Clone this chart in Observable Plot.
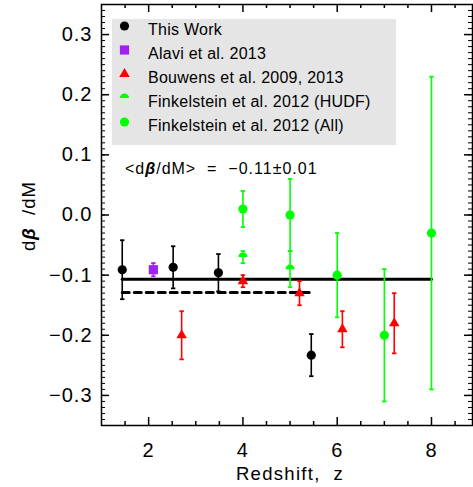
<!DOCTYPE html>
<html><head><meta charset="utf-8">
<script src="https://cdn.jsdelivr.net/npm/d3@7"></script>
<script src="https://cdn.jsdelivr.net/npm/@observablehq/plot@0.6"></script>
<style>
body{margin:0;background:#fff}
#chart{width:473px;height:487px}
</style>
</head><body><div id="chart"></div>
<script>
// ---- data ----
const seriesNames = ["This Work","Alavi et al. 2013","Bouwens et al. 2009, 2013","Finkelstein et al. 2012 (HUDF)","Finkelstein et al. 2012 (All)"];
const seriesColors = ["#000000","#a020f0","#ff0000","#00ff00","#00ff00"];

const thisWorkZ = [1.44, 2.52, 3.48, 5.45];
const thisWorkV = [-0.091, -0.087, -0.096, -0.233];
const thisWorkE = [0.049, 0.035, 0.031, 0.035];

const alaviZ = [2.1];
const alaviV = [-0.091];
const alaviE = [0.011];

const bouwensZ = [2.7, 4.0, 5.2, 6.11, 7.21];
const bouwensV = [-0.20, -0.11, -0.13, -0.19, -0.18];
const bouwensE = [0.04, 0.01, 0.02, 0.03, 0.05];

const hudfZ = [4.0, 5.0];
const hudfV = [-0.07, -0.09];
const hudfE = [0.01, 0.03];

const allZ = [4.0, 5.0, 6.0, 7.0, 8.0];
const allV = [0.01, 0.0, -0.10, -0.20, -0.03];
const allE = [0.03, 0.06, 0.07, 0.11, 0.26];

const fitSolidZ = [1.44, 8.0];
const fitSolidV = [-0.107, -0.107];
const fitDashedZ = [1.44, 5.42];
const fitDashedV = [-0.129, -0.129];

const xDomain = [1, 8.87];
const yDomain = [-0.35, 0.35];
const xMajorTicks = [2, 4, 6, 8];
const xMinorTicks = [1.5, 2.5, 3, 3.5, 4.5, 5, 5.5, 6.5, 7, 7.5, 8.5];
const yMajorTicks = [-0.3, -0.2, -0.1, 0, 0.1, 0.2, 0.3];
const yMinorTicks = d3.range(-35, 36).map(i => i / 100);

const annotationParts = ["<d", "β", "/dM>  =  −0.11±0.01"];
const yLabelParts = ["d", "β", "  /dM"];
const xLabel = "Redshift,  z";

// ---- helpers ----
const rows = (zs, vs, es) => zs.map((z, i) => ({z, v: vs[i], e: es ? es[i] : 0}));
const halfDisc = {draw(ctx, size) { const r = Math.sqrt(size / Math.PI); ctx.moveTo(r, 0); ctx.arc(0, 0, r, 0, Math.PI, true); ctx.closePath(); }};
const capSym = {draw(ctx, size) { const r = Math.sqrt(size / Math.PI); ctx.moveTo(-r, 0); ctx.lineTo(r, 0); }};
const seriesSymbols = ["circle", "square", "triangle", halfDisc, "circle"];
const seriesR = [4.6, 5.2, 3.9, 4.6, 4.6];

const series = [
  rows(thisWorkZ, thisWorkV, thisWorkE),
  rows(alaviZ, alaviV, alaviE),
  rows(bouwensZ, bouwensV, bouwensE),
  rows(hudfZ, hudfV, hudfE),
  rows(allZ, allV, allE)
];

const W = 473, H = 487, mL = 101, mR = 1, mT = 4, mB = 62;
const innerH = H - mT - mB, innerW = W - mL - mR;

const marks = [
  Plot.line(rows(fitSolidZ, fitSolidV), {x: "z", y: "v", stroke: "black", strokeWidth: 3}),
  Plot.line(rows(fitDashedZ, fitDashedV), {x: "z", y: "v", stroke: "black", strokeWidth: 3, strokeDasharray: "7,5"})
];
series.forEach((data, i) => {
  const c = seriesColors[i];
  marks.push(
    Plot.ruleX(data, {x: "z", y1: d => d.v - d.e, y2: d => d.v + d.e, stroke: c, strokeWidth: 1.6}),
    Plot.dot(data, {x: "z", y: d => d.v - d.e, symbol: capSym, r: 2.2, stroke: c, strokeWidth: 1.8, fill: "none"}),
    Plot.dot(data, {x: "z", y: d => d.v + d.e, symbol: capSym, r: 2.2, stroke: c, strokeWidth: 1.8, fill: "none"}),
    Plot.dot(data, {x: "z", y: "v", symbol: seriesSymbols[i], r: seriesR[i], fill: c, stroke: "none"})
  );
});
// ticks (inward)
marks.push(
  Plot.ruleX(xMajorTicks, {x: d => d, insetTop: innerH - 8, stroke: "black", strokeWidth: 1.5}),
  Plot.ruleX(xMajorTicks, {x: d => d, insetBottom: innerH - 8, stroke: "black", strokeWidth: 1.5}),
  Plot.ruleX(xMinorTicks, {x: d => d, insetTop: innerH - 4, stroke: "black", strokeWidth: 1.5}),
  Plot.ruleX(xMinorTicks, {x: d => d, insetBottom: innerH - 4, stroke: "black", strokeWidth: 1.5}),
  Plot.ruleY(yMajorTicks, {y: d => d, insetRight: innerW - 8, stroke: "black", strokeWidth: 1.5}),
  Plot.ruleY(yMajorTicks, {y: d => d, insetLeft: innerW - 8, stroke: "black", strokeWidth: 1.5}),
  Plot.ruleY(yMinorTicks, {y: d => d, insetRight: innerW - 4, stroke: "black", strokeWidth: 1}),
  Plot.ruleY(yMinorTicks, {y: d => d, insetLeft: innerW - 4, stroke: "black", strokeWidth: 1}),
  Plot.axisX({ticks: xMajorTicks, tickSize: 0, tickPadding: 17, label: null, tickFormat: d3.format("d")}),
  Plot.axisY({ticks: yMajorTicks, tickSize: 0, tickPadding: 9, label: null, tickFormat: d3.format(".1f")}),
  Plot.frame({stroke: "black", strokeWidth: 1.5})
);

const plot = Plot.plot({
  width: W, height: H,
  marginLeft: mL, marginRight: mR, marginTop: mT, marginBottom: mB,
  x: {domain: xDomain},
  y: {domain: yDomain},
  style: {fontFamily: "Liberation Sans, Arial, sans-serif", fontSize: "20px", letterSpacing: "1px", color: "black", background: "white"},
  marks
});
document.getElementById("chart").appendChild(plot);

// ---- legend & annotations ----
const svg = d3.select(plot);
const lg = svg.append("g").attr("font-family", "Liberation Sans, Arial, sans-serif").attr("font-size", 16)
  .attr("text-anchor", "start").style("letter-spacing", "0.25px");
lg.append("rect").attr("x", 112).attr("y", 19).attr("width", 284).attr("height", 126).attr("fill", "#e5e5e5");
seriesNames.forEach((name, i) => {
  const base = 35 + i * 24;
  const sym = typeof seriesSymbols[i] === "string"
    ? {circle: d3.symbolCircle, square: d3.symbolSquare, triangle: d3.symbolTriangle}[seriesSymbols[i]]
    : seriesSymbols[i];
  lg.append("path")
    .attr("d", d3.symbol(sym, Math.PI * seriesR[i] * seriesR[i])())
    .attr("transform", `translate(124.5,${base - 9})`)
    .attr("fill", seriesColors[i]);
  lg.append("text").attr("x", 148).attr("y", base).attr("text-anchor", "start").attr("fill", "black").text(name);
});

const ann = svg.append("text").attr("x", 125).attr("y", 174).attr("text-anchor", "start")
  .attr("font-family", "Liberation Sans, Arial, sans-serif").attr("font-size", 16)
  .style("white-space", "pre").style("letter-spacing", "1px").attr("fill", "black");
annotationParts.forEach((p, i) => ann.append("tspan").attr("font-weight", i === 1 ? "bold" : null).attr("font-style", i === 1 ? "italic" : null).text(p));

const yl = svg.append("text").attr("transform", "translate(35,216) rotate(-90)").attr("text-anchor", "middle")
  .attr("font-family", "Liberation Sans, Arial, sans-serif").attr("font-size", 18.5)
  .style("white-space", "pre").style("letter-spacing", "1px").attr("fill", "black");
yLabelParts.forEach((p, i) => yl.append("tspan").attr("font-weight", i === 1 ? "bold" : null).attr("font-style", i === 1 ? "italic" : null).text(p));

svg.append("text").attr("x", 290).attr("y", 480).attr("text-anchor", "middle")
  .attr("font-family", "Liberation Sans, Arial, sans-serif").attr("font-size", 18.5)
  .style("white-space", "pre").style("letter-spacing", "1.3px").attr("fill", "black").text(xLabel);
</script>
</body></html>
